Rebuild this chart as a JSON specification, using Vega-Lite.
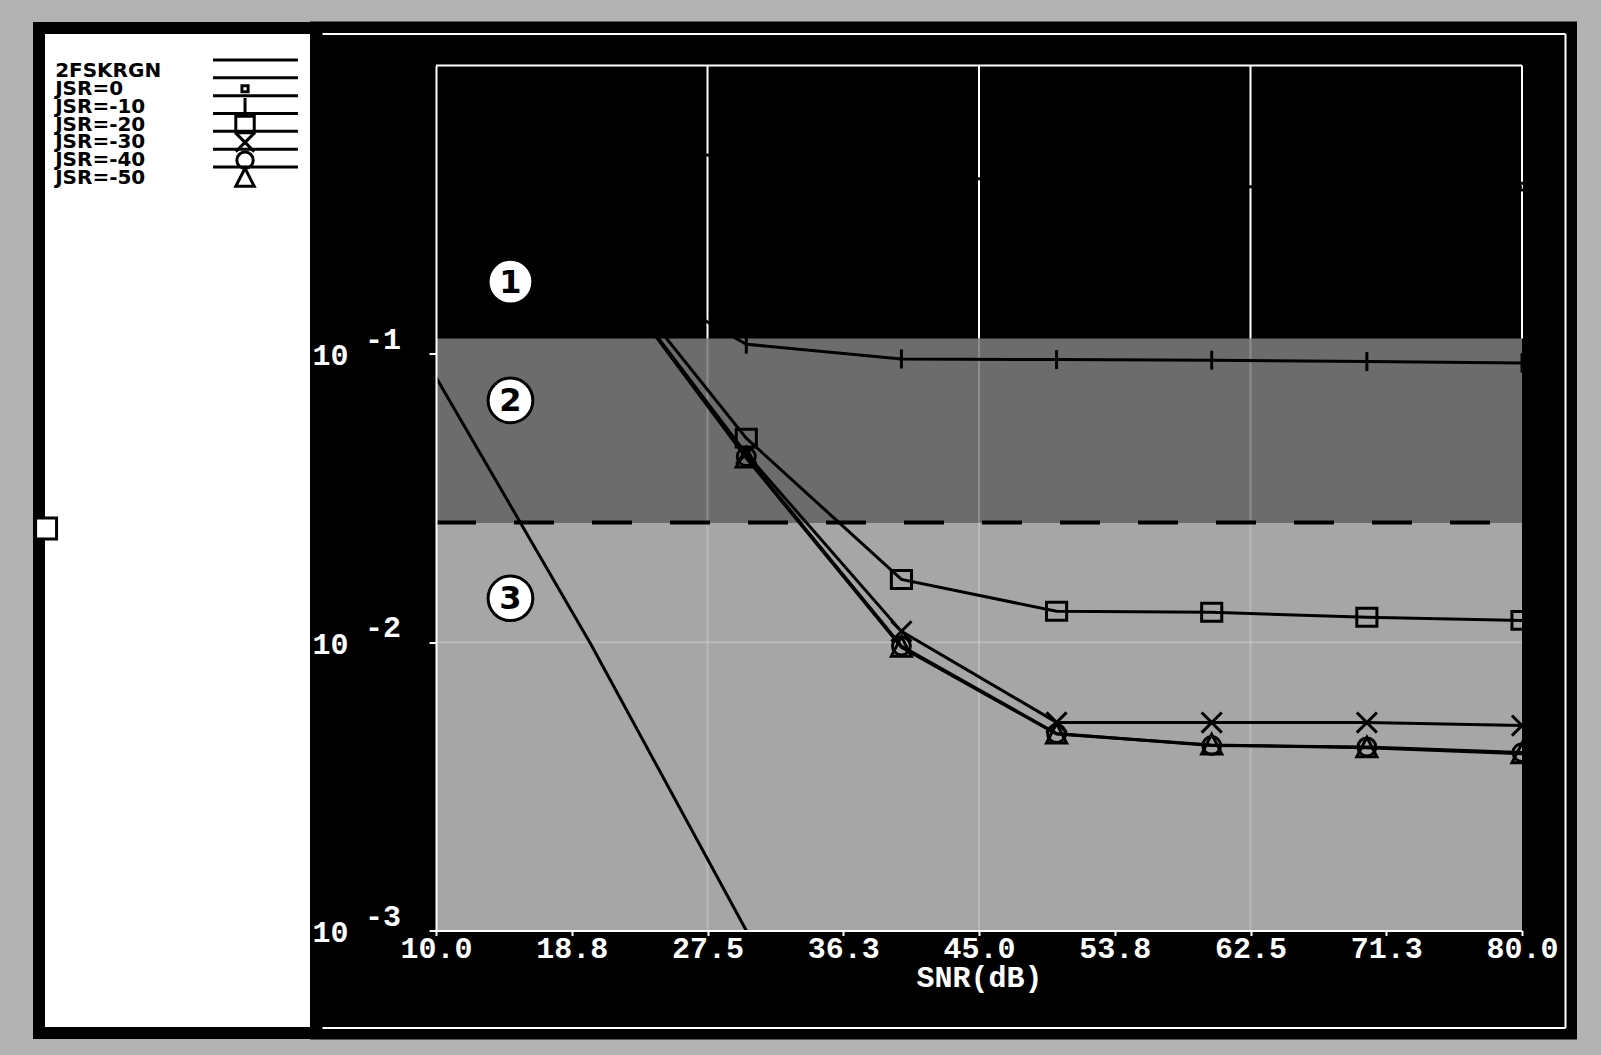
{
  "$schema": "https://vega.github.io/schema/vega-lite/v6.json",
  "background": "#b2b2b2",
  "padding": {"left": 23, "top": 21, "right": 24, "bottom": 16},
  "spacing": 0,
  "bounds": "flush",
  "center": true,
  "config": {"view": {"stroke": null}},
  "datasets": {
    "curves": [
      {"series": "2FSKRGN", "snr": 10, "ber": 0.083},
      {"series": "2FSKRGN", "snr": 20, "ber": 0.0098},
      {"series": "2FSKRGN", "snr": 30, "ber": 0.001},
      {"series": "JSR=0", "snr": 10, "ber": 0.65},
      {"series": "JSR=0", "snr": 20, "ber": 0.55},
      {"series": "JSR=0", "snr": 30, "ber": 0.47},
      {"series": "JSR=0", "snr": 40, "ber": 0.42},
      {"series": "JSR=0", "snr": 50, "ber": 0.39},
      {"series": "JSR=0", "snr": 60, "ber": 0.38},
      {"series": "JSR=0", "snr": 70, "ber": 0.38},
      {"series": "JSR=0", "snr": 80, "ber": 0.38},
      {"series": "JSR=-10", "snr": 10, "ber": 0.55},
      {"series": "JSR=-10", "snr": 20, "ber": 0.22},
      {"series": "JSR=-10", "snr": 30, "ber": 0.108},
      {"series": "JSR=-10", "snr": 40, "ber": 0.096},
      {"series": "JSR=-10", "snr": 50, "ber": 0.0955},
      {"series": "JSR=-10", "snr": 60, "ber": 0.095},
      {"series": "JSR=-10", "snr": 70, "ber": 0.094},
      {"series": "JSR=-10", "snr": 80, "ber": 0.093},
      {"series": "JSR=-20", "snr": 10, "ber": 0.6},
      {"series": "JSR=-20", "snr": 20, "ber": 0.24},
      {"series": "JSR=-20", "snr": 30, "ber": 0.051},
      {"series": "JSR=-20", "snr": 40, "ber": 0.0165},
      {"series": "JSR=-20", "snr": 50, "ber": 0.0128},
      {"series": "JSR=-20", "snr": 60, "ber": 0.0127},
      {"series": "JSR=-20", "snr": 70, "ber": 0.0122},
      {"series": "JSR=-20", "snr": 80, "ber": 0.0119},
      {"series": "JSR=-30", "snr": 10, "ber": 0.6},
      {"series": "JSR=-30", "snr": 20, "ber": 0.23},
      {"series": "JSR=-30", "snr": 30, "ber": 0.045},
      {"series": "JSR=-30", "snr": 40, "ber": 0.0109},
      {"series": "JSR=-30", "snr": 50, "ber": 0.00527},
      {"series": "JSR=-30", "snr": 60, "ber": 0.00526},
      {"series": "JSR=-30", "snr": 70, "ber": 0.00526},
      {"series": "JSR=-30", "snr": 80, "ber": 0.00514},
      {"series": "JSR=-40", "snr": 10, "ber": 0.6},
      {"series": "JSR=-40", "snr": 20, "ber": 0.23},
      {"series": "JSR=-40", "snr": 30, "ber": 0.044},
      {"series": "JSR=-40", "snr": 40, "ber": 0.0097},
      {"series": "JSR=-40", "snr": 50, "ber": 0.00482},
      {"series": "JSR=-40", "snr": 60, "ber": 0.00438},
      {"series": "JSR=-40", "snr": 70, "ber": 0.00433},
      {"series": "JSR=-40", "snr": 80, "ber": 0.00414},
      {"series": "JSR=-50", "snr": 10, "ber": 0.6},
      {"series": "JSR=-50", "snr": 20, "ber": 0.23},
      {"series": "JSR=-50", "snr": 30, "ber": 0.0435},
      {"series": "JSR=-50", "snr": 40, "ber": 0.0096},
      {"series": "JSR=-50", "snr": 50, "ber": 0.0048},
      {"series": "JSR=-50", "snr": 60, "ber": 0.0044},
      {"series": "JSR=-50", "snr": 70, "ber": 0.0043},
      {"series": "JSR=-50", "snr": 80, "ber": 0.0041}
    ],
    "regions": [
      {"region": "1", "lo": 0.113, "hi": 1},
      {"region": "2", "lo": 0.026, "hi": 0.113},
      {"region": "3", "lo": 0.001, "hi": 0.026}
    ],
    "grid": [{"gx": 27.5}, {"gx": 45}, {"gx": 62.5}, {"gx": 80}],
    "zones": [
      {"label": "1", "snr": 14.8, "ber": 0.178},
      {"label": "2", "snr": 14.8, "ber": 0.0689},
      {"label": "3", "snr": 14.8, "ber": 0.0142}
    ],
    "exponents": [
      {"tick": 0.1, "exp": "-1"},
      {"tick": 0.01, "exp": "-2"},
      {"tick": 0.001, "exp": "-3"}
    ],
    "series": [
      {"series": "2FSKRGN"}, {"series": "JSR=0"}, {"series": "JSR=-10"}, {"series": "JSR=-20"},
      {"series": "JSR=-30"}, {"series": "JSR=-40"}, {"series": "JSR=-50"}
    ]
  },
  "hconcat": [
    {
      "width": 283,
      "height": 1005,
      "view": {"fill": "white", "stroke": "black", "strokeWidth": 12},
      "resolve": {"scale": {"y": "independent"}},
      "layer": [
        {
          "data": {"name": "series"},
          "encoding": {
            "y": {"field": "series", "type": "nominal", "sort": null, "axis": null,
                  "scale": {"type": "point", "range": [34, 159]}}
          },
          "layer": [
            {
              "mark": {"type": "text", "align": "left", "baseline": "middle", "font": "DejaVu Sans", "fontWeight": "bold", "fontSize": 20, "color": "black"},
              "encoding": {
                "x": {"datum": 0.057, "type": "quantitative", "scale": {"domain": [0, 1]}, "axis": null},
                "text": {"field": "series"}
              }
            },
            {
              "mark": {"type": "rule", "strokeWidth": 3, "color": "black", "yOffset": -11},
              "encoding": {
                "x": {"datum": 0.615, "type": "quantitative"},
                "x2": {"datum": 0.915}
              }
            },
            {
              "transform": [{"filter": "datum.series !== '2FSKRGN'"}],
              "mark": {"type": "point", "filled": false, "strokeWidth": 3, "color": "black", "opacity": 1, "size": 420},
              "encoding": {
                "x": {"datum": 0.728, "type": "quantitative"},
                "shape": {"field": "series", "type": "nominal", "legend": null,
                          "scale": {"domain": ["JSR=0", "JSR=-10", "JSR=-20", "JSR=-30", "JSR=-40", "JSR=-50"],
                                    "range": ["M-0.3,-0.3H0.3V0.3H-0.3Z", "M0,-0.85V0.85", "M-0.9,-0.8H0.9V0.8H-0.9Z", "M-0.9,-0.9L0.9,0.9M0.9,-0.9L-0.9,0.9", "M-0.8,0A0.8,0.8 0 1,0 0.8,0A0.8,0.8 0 1,0 -0.8,0Z", "M0,-0.95L0.9,0.8H-0.9Z"]}}
              }
            }
          ]
        },
        {
          "data": {"values": [{}]},
          "mark": {"type": "square", "filled": true, "fill": "white", "stroke": "black", "strokeWidth": 3, "size": 440, "opacity": 1},
          "encoding": {
            "x": {"datum": 0.025, "type": "quantitative"},
            "y": {"datum": 0.502, "type": "quantitative", "scale": {"domain": [0, 1]}, "axis": null}
          }
        }
      ]
    },
    {
      "width": 1243,
      "height": 994,
      "view": {"fill": "black", "stroke": "black", "strokeWidth": 24},
      "resolve": {"scale": {"x": "independent", "y": "independent"}, "axis": {"x": "independent", "y": "independent"}},
      "layer": [
        {
          "layer": [
            {
              "data": {"name": "regions"},
              "mark": {"type": "rect"},
              "encoding": {
                "x": {"datum": 10, "type": "quantitative",
                      "scale": {"domain": [10, 80], "range": [114, 1200], "nice": false, "zero": false},
                      "axis": {"values": [10, 18.75, 27.5, 36.25, 45, 53.75, 62.5, 71.25, 80], "format": ".1f",
                               "offset": -97, "grid": false, "zindex": 1,
                               "domainColor": "white", "domainWidth": 2, "tickColor": "white", "tickWidth": 2, "tickSize": 5,
                               "labelColor": "white", "labelFont": "Liberation Mono", "labelFontWeight": "bold", "labelFontSize": 30,
                               "labelPadding": -2, "labelFlush": false, "labelOverlap": false, "labelBound": false,
                               "title": "SNR(dB)", "titleColor": "white", "titleFont": "Liberation Mono", "titleFontWeight": "bold",
                               "titleFontSize": 30, "titlePadding": -1}},
                "x2": {"datum": 80},
                "y": {"field": "lo", "type": "quantitative",
                      "scale": {"type": "log", "domain": [0.001, 1], "range": [897, 32], "nice": false, "clamp": true},
                      "axis": {"values": [0.001, 0.01, 0.1], "offset": -114, "grid": false, "zindex": 1,
                               "domainColor": "white", "domainWidth": 2, "tickColor": "white", "tickWidth": 2, "tickSize": 7,
                               "labelExpr": "'10'",
                               "labelAlign": "left", "labelBaseline": "middle", "labelPadding": 117, "labelOffset": 2,
                               "labelColor": "white", "labelFont": "Liberation Mono", "labelFontWeight": "bold", "labelFontSize": 30,
                               "labelFlush": false, "labelOverlap": false, "labelBound": false, "title": null}},
                "y2": {"field": "hi"},
                "color": {"field": "region", "type": "nominal", "legend": null,
                          "scale": {"domain": ["1", "2", "3"], "range": ["#000000", "#6c6c6c", "#a6a6a6"]}}
              }
            },
            {
              "data": {"name": "grid"},
              "transform": [{"filter": "datum.gx < 80"}],
              "mark": {"type": "rule", "color": "white", "strokeWidth": 2, "opacity": 0.22},
              "encoding": {
                "x": {"field": "gx", "type": "quantitative"},
                "y": {"datum": 0.001, "type": "quantitative"},
                "y2": {"datum": 0.113}
              }
            },
            {
              "data": {"values": [{}]},
              "mark": {"type": "rule", "color": "white", "strokeWidth": 2, "opacity": 0.22},
              "encoding": {
                "x": {"datum": 10, "type": "quantitative"},
                "x2": {"datum": 80},
                "y": {"datum": 0.01, "type": "quantitative"}
              }
            },
            {
              "data": {"values": [{}]},
              "mark": {"type": "rule", "color": "black", "strokeWidth": 4, "strokeDash": [40, 38]},
              "encoding": {
                "x": {"datum": 10, "type": "quantitative"},
                "x2": {"datum": 80},
                "y": {"datum": 0.026, "type": "quantitative"}
              }
            },
            {
              "data": {"name": "grid"},
              "mark": {"type": "rule", "color": "white", "strokeWidth": 2},
              "encoding": {
                "x": {"field": "gx", "type": "quantitative"},
                "y": {"datum": 0.113, "type": "quantitative"},
                "y2": {"datum": 1}
              }
            },
            {
              "data": {"values": [{}]},
              "mark": {"type": "rule", "color": "white", "strokeWidth": 2},
              "encoding": {
                "x": {"datum": 10, "type": "quantitative"},
                "x2": {"datum": 80},
                "y": {"datum": 1, "type": "quantitative"}
              }
            },
            {
              "data": {"name": "exponents"},
              "mark": {"type": "text", "align": "left", "baseline": "middle", "dx": -71, "dy": -14,
                       "font": "Liberation Mono", "fontWeight": "bold", "fontSize": 30, "color": "white"},
              "encoding": {
                "x": {"datum": 10, "type": "quantitative"},
                "y": {"field": "tick", "type": "quantitative"},
                "text": {"field": "exp"}
              }
            },
            {
              "data": {"name": "curves"},
              "mark": {"type": "line", "color": "black", "strokeWidth": 3},
              "encoding": {
                "x": {"field": "snr", "type": "quantitative"},
                "y": {"field": "ber", "type": "quantitative"},
                "detail": {"field": "series"}
              }
            },
            {
              "data": {"name": "curves"},
              "transform": [{"filter": "datum.series !== '2FSKRGN'"}],
              "mark": {"type": "point", "filled": false, "strokeWidth": 3, "color": "black", "opacity": 1, "size": 500},
              "encoding": {
                "x": {"field": "snr", "type": "quantitative"},
                "y": {"field": "ber", "type": "quantitative"},
                "shape": {"field": "series", "type": "nominal", "legend": null,
                          "scale": {"domain": ["JSR=0", "JSR=-10", "JSR=-20", "JSR=-30", "JSR=-40", "JSR=-50"],
                                    "range": ["M-0.3,-0.3H0.3V0.3H-0.3Z", "M0,-0.9V0.9", "M-0.9,-0.9H0.9V0.9H-0.9Z", "M-1,-1L1,1M1,-1L-1,1", "M-0.8,0A0.8,0.8 0 1,0 0.8,0A0.8,0.8 0 1,0 -0.8,0Z", "M0,-0.95L0.9,0.75H-0.9Z"]}}
              }
            },
            {
              "data": {"name": "zones"},
              "mark": {"type": "point", "shape": "circle", "filled": true, "fill": "white", "stroke": "black", "strokeWidth": 3, "size": 2000, "opacity": 1},
              "encoding": {
                "x": {"field": "snr", "type": "quantitative"},
                "y": {"field": "ber", "type": "quantitative"}
              }
            },
            {
              "data": {"name": "zones"},
              "mark": {"type": "text", "font": "DejaVu Sans", "fontWeight": "bold", "fontSize": 32, "color": "black", "baseline": "middle", "align": "center", "dy": 1},
              "encoding": {
                "x": {"field": "snr", "type": "quantitative"},
                "y": {"field": "ber", "type": "quantitative"},
                "text": {"field": "label"}
              }
            }
          ]
        },
        {
          "data": {"values": [{}]},
          "mark": {"type": "point", "opacity": 0},
          "encoding": {
            "x": {"datum": 0.5, "type": "quantitative", "scale": {"domain": [0, 1]},
                  "axis": {"orient": "top", "values": [1], "grid": true, "gridColor": "white", "gridWidth": 2, "gridOpacity": 1,
                           "domain": false, "ticks": false, "labels": false, "title": null}},
            "y": {"datum": 0.5, "type": "quantitative", "scale": {"domain": [0, 1]},
                  "axis": {"orient": "right", "values": [0, 1], "grid": true, "gridColor": "white", "gridWidth": 2, "gridOpacity": 1,
                           "domain": false, "ticks": false, "labels": false, "title": null}}
          }
        }
      ]
    }
  ]
}
